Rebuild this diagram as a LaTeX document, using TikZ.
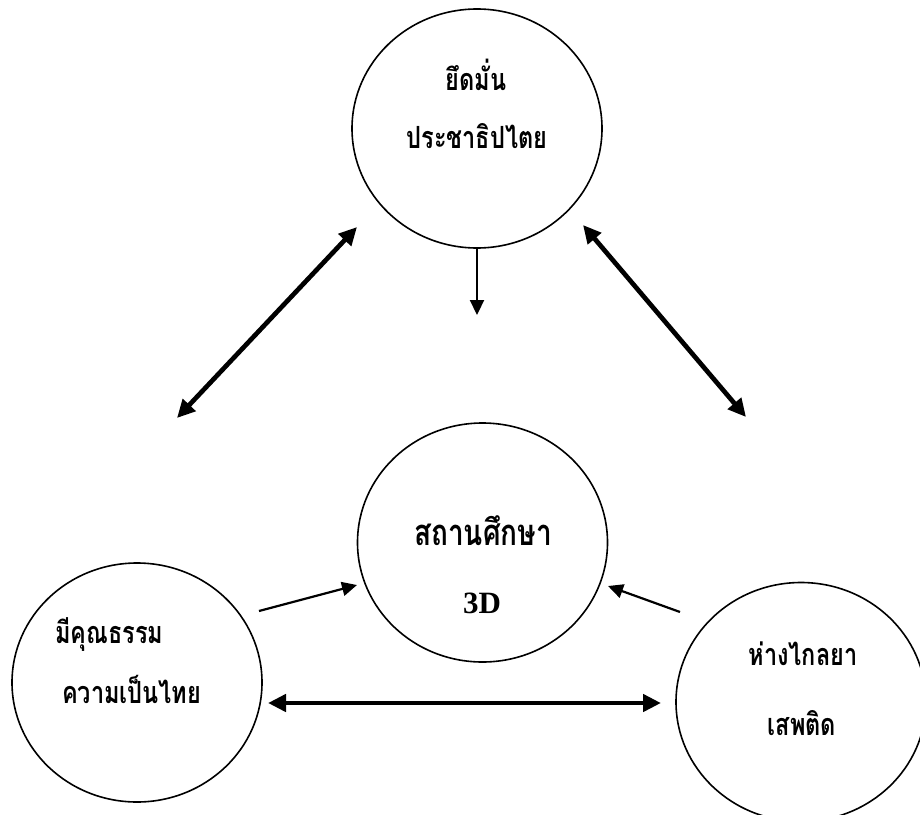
\documentclass[tikz,border=0pt]{standalone}
\usepackage{fontspec}
\usetikzlibrary{arrows.meta,shapes.geometric}
\newfontfamily\thaifont[Script=Thai]{Loma}
\newfontfamily\tnrfont{Liberation Serif}
\newcommand{\tallthai}[1]{\scalebox{1}[1.3]{#1}}
\tikzset{
  bubble/.style={draw, line width=1.6pt, ellipse, minimum width=250pt, minimum height=239pt, inner sep=0pt},
  thaitext/.style={inner sep=0pt, font=\thaifont\bfseries\fontsize{23.5pt}{26pt}\selectfont},
  bigtext/.style={inner sep=0pt, font=\thaifont\bfseries\fontsize{28pt}{30pt}\selectfont},
  latintext/.style={inner sep=0pt, font=\tnrfont\bfseries\fontsize{31pt}{34pt}\selectfont},
  twoway/.style={line width=4.7pt, {Triangle[length=18pt,width=17pt]}-{Triangle[length=18pt,width=17pt]}},
  oneway/.style={line width=2.2pt, -{Triangle[length=15pt,width=14pt]}},
}
\begin{document}
\begin{tikzpicture}[x=1pt,y=-1pt]
\useasboundingbox[fill=white] (0,0) rectangle (920,814);
% circles
\node[bubble] (top) at (477,128.5) {};
\node[bubble] (mid) at (482.5,542.5) {};
\node[bubble] (lft) at (137,682.5) {};
\node[bubble] (rgt) at (801,702) {};
% texts
\node[thaitext, anchor=base] (t1) at (476,90) {\tallthai{ยึดมั่น}};
\node[thaitext, anchor=base] (t2) at (477,148) {\tallthai{ประชาธิปไตย}};
\node[bigtext, anchor=base] (m1) at (483,545) {\tallthai{สถานศึกษา}};
\node[latintext, anchor=base] (m2) at (482,613) {3D};
\node[thaitext, anchor=base west] (l1) at (55,643) {\tallthai{มีคุณธรรม}};
\node[thaitext, anchor=base west] (l2) at (62,703) {\tallthai{ความเป็นไทย}};
\node[thaitext, anchor=base] (r1) at (803,665) {\tallthai{ห่างไกลยา}};
\node[thaitext, anchor=base] (r2) at (802,735) {\tallthai{เสพติด}};
% arrow end points
\coordinate (a1) at (177,418);
\coordinate (a2) at (357,227);
\coordinate (b1) at (583,225);
\coordinate (b2) at (746,417);
\coordinate (c1) at (268,703);
\coordinate (c2) at (661,703);
\coordinate (d2) at (top.south |- 0,315);
\coordinate (e1) at (259,611);
\coordinate (e2) at (357,585);
\coordinate (f1) at (680,612);
\coordinate (f2) at (608,586);
% connectors
\draw[twoway] (a1) -- (a2);
\draw[twoway] (b1) -- (b2);
\draw[twoway] (c1) -- (c2);
\draw[oneway] (top.south) -- (d2);
\draw[oneway] (e1) -- (e2);
\draw[oneway] (f1) -- (f2);
\end{tikzpicture}
\end{document}
